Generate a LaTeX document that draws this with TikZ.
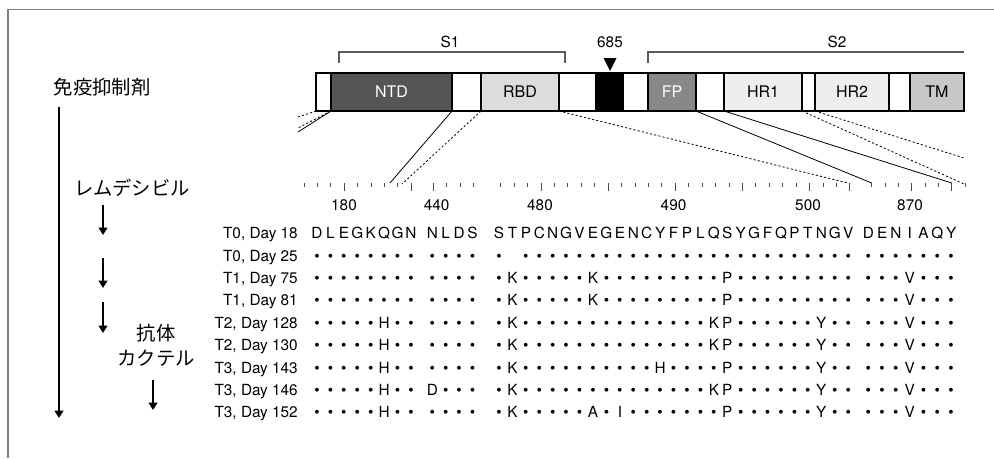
\documentclass[tikz,border=0pt]{standalone}
\usepackage{fontspec}
\setmainfont{TeX Gyre Heros}
\newfontfamily\jpfont{Noto Sans CJK JP}
\usetikzlibrary{arrows.meta,positioning}
\definecolor{ntdcol}{RGB}{85,85,85}
\definecolor{rbdcol}{RGB}{220,220,220}
\definecolor{fpcol}{RGB}{136,136,136}
\definecolor{hrcol}{RGB}{238,238,238}
\definecolor{tmcol}{RGB}{200,200,200}
\definecolor{framecol}{RGB}{128,128,128}
\definecolor{brackcol}{RGB}{90,90,90}
\newcommand{\rowy}[1]{233+22.4*#1}
% one block of residues in one row: row, block, start x, step, residues
\newcommand{\resgroup}[5]{%
  \foreach \res [count=\k from 0] in {#5} {%
    \if\res-\else
      \node[res] (r#1#2\k) at ({#3+#4*\k},{\rowy{#1}+5.6}) {\if\res.\textbullet\else\res\fi};
    \fi}}
\newcommand{\seqrow}[6]{%
  \node[rowlab] (lab#1) at (298,{\rowy{#1}+5.6}) {#2};
  \resgroup{#1}{a}{317}{13.43}{#3}
  \resgroup{#1}{b}{432.3}{13.43}{#4}
  \resgroup{#1}{c}{499}{13.43}{#5}
  \resgroup{#1}{d}{868.3}{13.8}{#6}}
% ruler ticks: start x, step, last index, tall indices
\newcommand{\ticks}[4]{%
  \foreach \k in {0,...,#3} {\draw[tick] ({#1+#2*\k},183) -- ++(0,4);}
  \foreach \k in {#4} {\draw[tick] ({#1+#2*\k},183) -- ++(0,8);}}

\begin{document}
\begin{tikzpicture}[
  x=0.75pt, y=-0.75pt,
  lab/.style={font=\fontsize{11.5}{13}\selectfont,inner sep=0pt},
  jp/.style={font=\jpfont\fontsize{14.5}{18.75}\selectfont,inner sep=0pt,align=center},
  rowlab/.style={lab,anchor=base east},
  res/.style={lab,anchor=base},
  seg/.style={draw,minimum width=#1*0.75pt,minimum height=28.5pt,inner sep=0pt,
    outer sep=0pt,line width=0.9pt,fill=white,font=\fontsize{12}{14}\selectfont},
  brack/.style={brackcol,line width=0.8pt},
  tick/.style={black!70,line width=0.6pt},
  zoomln/.style={line width=0.6pt},
  zoomdash/.style={line width=0.6pt,dash pattern=on 1.6pt off 1.6pt},
  arr/.style={line width=1.3pt,-{Triangle[width=6.5pt,length=5.5pt]}}]

\useasboundingbox (0,0) rectangle (994,458);
\draw[framecol,line width=1.4pt] (8,458) -- (8,9.5) -- (994,9.5);

% spike protein bar
\node[seg=15,anchor=north west] (nterm) at (316,73) {};
\node[seg=121,fill=ntdcol,text=white,right=0pt of nterm] (ntd) {NTD};
\node[seg=29,right=0pt of ntd] (gapa) {};
\node[seg=78,fill=rbdcol,right=0pt of gapa] (rbd) {RBD};
\node[seg=37,right=0pt of rbd] (gapb) {};
\node[seg=27,fill=black,right=0pt of gapb] (csite) {};
\node[seg=25,right=0pt of csite] (gapc) {};
\node[seg=48,fill=fpcol,text=white,right=0pt of gapc] (fp) {FP};
\node[seg=28,right=0pt of fp] (gapd) {};
\node[seg=78,fill=hrcol,right=0pt of gapd] (hra) {HR1};
\node[seg=13,right=0pt of hra] (gape) {};
\node[seg=74,fill=hrcol,right=0pt of gape] (hrb) {HR2};
\node[seg=21,right=0pt of hrb] (gapf) {};
\node[seg=54,fill=tmcol,right=0pt of gapf] (tm) {TM};

% S1 / S2 brackets
\draw[brack] (339,63) -- (339,52) -- (565,52) -- (565,63);
\draw[brack] (648,63) -- (648,52) -- (964,52);
\node[lab] (sone) at (450,42) {S1};
\node[lab] (stwo) at (837,42) {S2};
\node[lab] (cut) at (610,42) {685};
\fill (603.5,58) -- (616.5,58) -- (610,71) -- cycle;

% ruler
\ticks{304}{13.4}{8}{3,8}
\ticks{433.3}{13.4}{3}{0}
\ticks{500.7}{13.43}{26}{3,8,13,18,23,26}
\ticks{871.7}{13.33}{7}{3,6}
\foreach \nm/\x in {180/344,440/436.7,480/540,490/673.5,500/808,870/910}
  \node[lab,anchor=base] (num\nm) at (\x,210.6) {\nm};

% zoom lines
\coordinate (za) at (298,117);
\coordinate (zb) at (298,128);
\coordinate (zc) at (298,132);
\coordinate (zd) at (390,183);
\coordinate (ze) at (402,184);
\coordinate (zf) at (847.7,183);
\coordinate (zg) at (871.7,183);
\coordinate (zh) at (951.7,183);
\coordinate (zi) at (964,184);
\coordinate (zj) at (964,158);
\draw[zoomdash] (nterm.south west) -- (za);
\draw[zoomdash] (ntd.south west) -- (zb);
\draw[zoomln] (ntd.south west) -- (zc);
\draw[zoomln] (ntd.south east) -- (zd);
\draw[zoomdash] (rbd.south west) -- (ze);
\draw[zoomdash] (rbd.south east) -- (zf);
\draw[zoomln] (fp.south east) -- (zg);
\draw[zoomln] (hra.south west) -- (zh);
\draw[zoomdash] (hra.south east) -- (zi);
\draw[zoomdash] (hrb.south west) -- (zj);

% treatment timeline
\node[jp] (immuno) at (102,87) {免疫抑制剤};
\node[jp] (remd) at (132,188) {レムデシビル};
\node[jp] (abcock) at (156,345) {抗体\\カクテル};
\coordinate (ltop) at (59,107);
\coordinate (lbot) at (59,418);
\draw[arr,line width=1.5pt] (ltop) -- (lbot);
\foreach \n/\x/\ya/\yb in {1/103/205/235,2/103/258/288,3/103/302/333,4/153/380/410} {
  \coordinate (st\n) at (\x,\ya);
  \coordinate (en\n) at (\x,\yb);
  \draw[arr] (st\n) -- (en\n);
}

% sequences
\seqrow{0}{T0, Day 18}{D,L,E,G,K,Q,G,N}{N,L,D,S}
  {S,T,P,C,N,G,V,E,G,E,N,C,Y,F,P,L,Q,S,Y,G,F,Q,P,T,N,G,V}{D,E,N,I,A,Q,Y}
\seqrow{1}{T0, Day 25}{.,.,.,.,.,.,.,.}{.,.,.,.}
  {.,-,.,.,., .,.,.,.,., .,.,.,.,., .,.,.,.,., .,.,.,.,., .,.}{.,.,.,.,.,.,.}
\seqrow{2}{T1, Day 75}{.,.,.,.,.,.,.,.}{.,.,.,.}
  {.,K,.,.,., .,.,K,.,., .,.,.,.,., .,.,P,.,., .,.,.,.,., .,.}{.,.,.,V,.,.,.}
\seqrow{3}{T1, Day 81}{.,.,.,.,.,.,.,.}{.,.,.,.}
  {.,K,.,.,., .,.,K,.,., .,.,.,.,., .,.,P,.,., .,.,.,.,., .,.}{.,.,.,V,.,.,.}
\seqrow{4}{T2, Day 128}{.,.,.,.,.,H,.,.}{.,.,.,.}
  {.,K,.,.,., .,.,.,.,., .,.,.,.,., .,K,P,.,., .,.,.,.,Y, .,.}{.,.,.,V,.,.,.}
\seqrow{5}{T2, Day 130}{.,.,.,.,.,H,.,.}{.,.,.,.}
  {.,K,.,.,., .,.,.,.,., .,.,.,.,., .,K,P,.,., .,.,.,.,Y, .,.}{.,.,.,V,.,.,.}
\seqrow{6}{T3, Day 143}{.,.,.,.,.,H,.,.}{.,.,.,.}
  {.,K,.,.,., .,.,.,.,., .,.,H,.,., .,.,P,.,., .,.,.,.,Y, .,.}{.,.,.,V,.,.,.}
\seqrow{7}{T3, Day 146}{.,.,.,.,.,H,.,.}{D,.,.,.}
  {.,K,.,.,., .,.,.,.,., .,.,.,.,., .,K,P,.,., .,.,.,.,Y, .,.}{.,.,.,V,.,.,.}
\seqrow{8}{T3, Day 152}{.,.,.,.,.,H,.,.}{.,.,.,.}
  {.,K,.,.,., .,.,A,.,I, .,.,.,.,., .,.,P,.,., .,.,.,.,Y, .,.}{.,.,.,V,.,.,.}
\end{tikzpicture}
\end{document}
